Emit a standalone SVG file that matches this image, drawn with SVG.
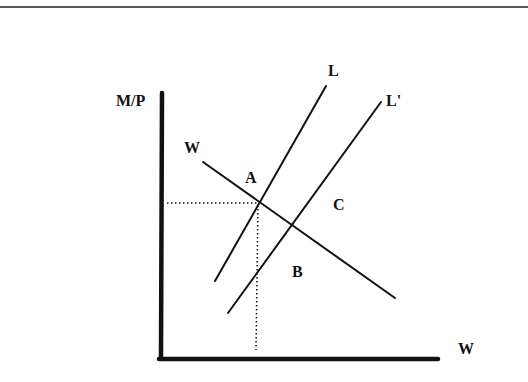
<svg xmlns="http://www.w3.org/2000/svg" width="528" height="382" viewBox="0 0 528 382">
<style>
.lbl{font-family:"Liberation Serif","Times New Roman",serif;font-weight:bold;font-size:16px;fill:#111}
.ln{stroke:#111;stroke-width:2;fill:none;stroke-linecap:round}
.ax{stroke:#111;stroke-width:4.5;fill:none;stroke-linecap:round}
.dot{stroke:#111;stroke-width:1.5;fill:none;stroke-dasharray:1.5 2.5}
</style>
<rect width="528" height="382" fill="#fff"/>
<line x1="0" y1="7" x2="528" y2="7" stroke="#222" stroke-width="1.5"/>
<g id="axes">
<line class="ax" x1="162" y1="93" x2="161" y2="357"/>
<line class="ax" x1="159" y1="359" x2="438" y2="359"/>
</g>
<g id="connectors">
<line class="ln" x1="326" y1="86" x2="215" y2="281"/>
<line class="ln" x1="381" y1="102" x2="228" y2="313"/>
<line class="ln" x1="203" y1="162" x2="395" y2="298"/>
<line class="dot" x1="167" y1="203" x2="258" y2="203"/>
<line class="dot" x1="258" y1="205" x2="256" y2="350"/>
</g>
<g id="labels">
<text class="lbl" x="116" y="106">M/P</text>
<text class="lbl" x="184" y="153">W</text>
<text class="lbl" x="245" y="183">A</text>
<text class="lbl" x="328" y="76">L</text>
<text class="lbl" x="386" y="106">L'</text>
<text class="lbl" x="333" y="210">C</text>
<text class="lbl" x="292" y="277">B</text>
<text class="lbl" x="458" y="354">W</text>
</g>
</svg>
